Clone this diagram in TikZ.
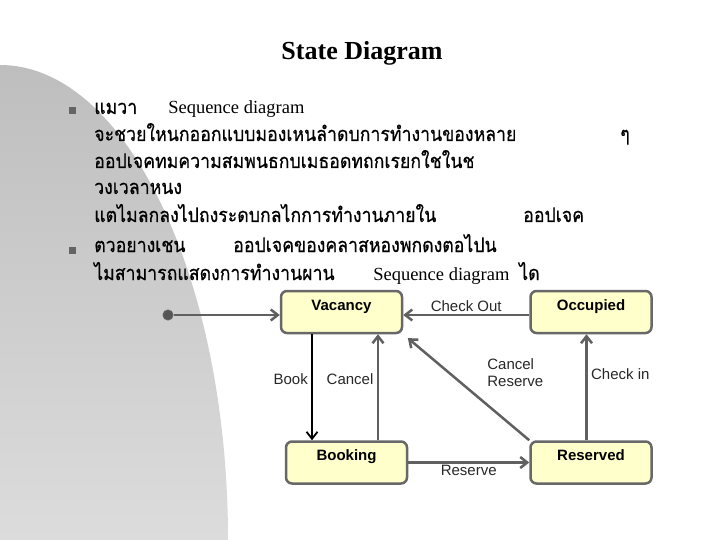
\documentclass[tikz,border=0pt]{standalone}
\usepackage{fontspec}
\setmainfont{Liberation Serif}
\setsansfont{Liberation Sans}
\newfontfamily\thaifont[Script=Thai,FakeStretch=0.885,FakeBold=0.5]{Loma}
\usetikzlibrary{arrows.meta,positioning}

\definecolor{linegray}{RGB}{96,96,96}
\definecolor{boxgray}{RGB}{104,104,104}
\definecolor{statefill}{RGB}{255,255,204}
\definecolor{dotgray}{RGB}{85,85,85}
\definecolor{bulletgray}{RGB}{100,100,100}
\definecolor{bgtop}{RGB}{190,190,190}
\definecolor{bgbottom}{RGB}{220,220,220}
\definecolor{labelgray}{RGB}{40,40,40}

\begin{document}
\begin{tikzpicture}[x=1pt,y=-1pt,->,>={Straight Barb[length=7pt,width=11pt]},line width=2.5pt,
  main node/.style={rectangle,rounded corners=6pt,draw=boxgray,fill=statefill,minimum width=121pt,minimum height=42pt,text height=10pt,text depth=14pt,inner sep=0pt,font=\sffamily\bfseries\fontsize{15}{17}\selectfont},
  trans/.style={draw=linegray,line width=2.5pt},
  lbl/.style={font=\sffamily\fontsize{15}{17}\selectfont,text=labelgray},
  thai line/.style={anchor=base west,inner sep=0pt,font=\thaifont\fontsize{20}{22}\selectfont},
  seq text/.style={anchor=base west,inner sep=0pt,font=\rmfamily\fontsize{18.5}{20}\selectfont},
  bullet/.style={rectangle,fill=bulletgray,minimum size=7pt,inner sep=0pt}]

\fill[white] (0,0) rectangle (720,540);
\useasboundingbox (0,0) rectangle (720,540);
\shade[top color=bgtop,bottom color=bgbottom] (0,65) arc[start angle=-90,end angle=0,x radius=228,y radius=475] -- (0,540) -- cycle;

\node[anchor=base] (title) at (362,60) {\bfseries\fontsize{26}{30}\selectfont State Diagram};

%bullet text
\node[bullet] (b1) at (72,111) {};
\node[thai line] (t1) at (93,114) {แมวา};
\node[seq text] (s1) at (167,114) {Sequence diagram};
\node[thai line] (t2) at (93,141) {จะชวยใหนกออกแบบมองเหนลำดบการทำงานของหลาย};
\node[thai line] (t2b) at (619,141) {ๆ};
\node[thai line] (t3) at (93,168) {ออปเจคทมความสมพนธกบเมธอดทถกเรยกใชในช};
\node[thai line] (t4) at (93,194) {วงเวลาหนง};
\node[thai line] (t5) at (93,222) {แตไมลกลงไปถงระดบกลไกการทำงานภายใน};
\node[thai line] (t5b) at (522,222) {ออปเจค};
\node[bullet] (b2) at (72,250) {};
\node[thai line] (t6) at (93,252) {ตวอยางเชน};
\node[thai line] (t6b) at (232,252) {ออปเจคของคลาสหองพกดงตอไปน};
\node[thai line] (t7) at (93,280) {ไมสามารถแสดงการทำงานผาน};
\node[seq text] (s7) at (372,280) {Sequence diagram};
\node[thai line] (t7b) at (518,280) {ได};

%states
\node[main node] (1) at (341.5,312) {Vacancy};
\node[main node] (2) [right=126pt of 1] {Occupied};
\node[main node] (3) [below=106pt of 1,xshift=5pt] {Booking};
\node[main node] (4) [below=106pt of 2] {Reserved};
\node[circle,fill=dotgray,draw=linegray,line width=1pt,minimum size=10pt,inner sep=0pt] (0) at (168,315) {};

%start
\path (0) edge[trans] (1.west |- 0);

%vertical
\path
([xshift=-29.5pt]1.south) edge[trans,draw=black,line width=1.8pt] node[lbl,left,pos=0.42] {Book} ([xshift=-34.5pt]3.north);
\path
([xshift=31.5pt]3.north) edge[trans] node[lbl,left,pos=0.58] {Cancel} ([xshift=36.5pt]1.south);
\path
([xshift=-4.5pt]4.north) edge[trans] node[lbl,right,pos=0.62] {Check in} ([xshift=-4.5pt]2.south);

%horizontal
\path
([yshift=-3pt]2.west) edge[trans] node[lbl,above,inner sep=2pt] {Check Out} ([yshift=-3pt]1.east);
\path
(3) edge[trans] node[lbl,below,inner sep=1pt] {Reserve} (4);

%diagonal
\path
(4.north west) edge[trans,shorten >=6pt] node[lbl,anchor=west,align=left,xshift=16.5pt,yshift=14.5pt,font=\sffamily\fontsize{15}{17.5}\selectfont] {Cancel\\Reserve} (1.south east);

\end{tikzpicture}
\end{document}
